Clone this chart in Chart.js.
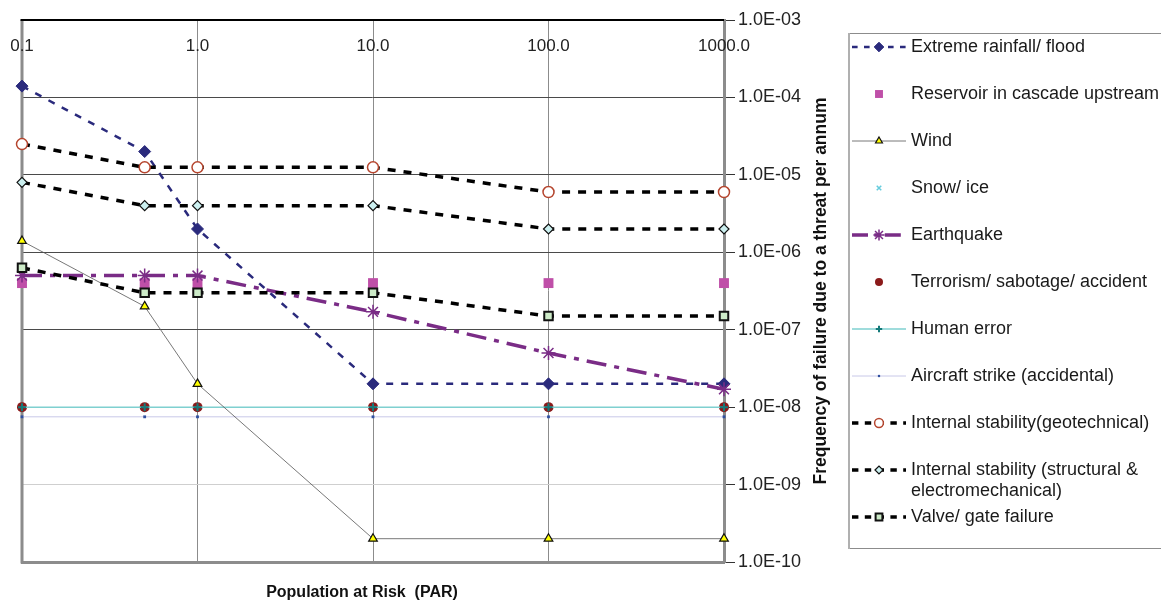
<!DOCTYPE html>
<html>
<head>
<meta charset="utf-8">
<script src="https://cdn.jsdelivr.net/npm/chart.js@4/dist/chart.umd.min.js"></script>
<style>
  html, body { margin: 0; padding: 0; background: #fff; }
  #wrap { width: 1161px; height: 601px; }
</style>
</head>
<body>
<div id="wrap"><canvas id="riskChart" width="1161" height="601"></canvas></div>
<script>
// Population at risk (x values, log scale)
const parValues = [0.1, 0.5, 1, 10, 100, 1000];
const xTickValues = [0.1, 1, 10, 100, 1000];
const xTickLabels = ['0.1', '1.0', '10.0', '100.0', '1000.0'];
const yTickValues = [1e-10, 1e-9, 1e-8, 1e-7, 1e-6, 1e-5, 1e-4, 1e-3];
const yTickLabels = ['1.0E-10', '1.0E-09', '1.0E-08', '1.0E-07', '1.0E-06', '1.0E-05', '1.0E-04', '1.0E-03'];

// Frequency of failure per annum, one array per threat
const extremeRainfall = [1.4e-4, 2e-5, 2e-6, 2e-8, 2e-8, 2e-8];
const reservoirCascade = [4e-7, 4e-7, 4e-7, 4e-7, 4e-7, 4e-7];
const wind = [1.4e-6, 2e-7, 2e-8, 2e-10, 2e-10, 2e-10];
const snowIce = [1e-8, 1e-8, 1e-8, 1e-8, 1e-8, 1e-8];
const earthquake = [5e-7, 5e-7, 5e-7, 1.7e-7, 5e-8, 1.7e-8];
const terrorism = [1e-8, 1e-8, 1e-8, 1e-8, 1e-8, 1e-8];
const humanError = [1e-8, 1e-8, 1e-8, 1e-8, 1e-8, 1e-8];
const aircraftStrike = [7.5e-9, 7.5e-9, 7.5e-9, 7.5e-9, 7.5e-9, 7.5e-9];
const stabilityGeo = [2.5e-5, 1.25e-5, 1.25e-5, 1.25e-5, 6e-6, 6e-6];
const stabilityStruct = [8e-6, 4e-6, 4e-6, 4e-6, 2e-6, 2e-6];
const valveGate = [6.3e-7, 3e-7, 3e-7, 3e-7, 1.5e-7, 1.5e-7];

const FONT = '"Liberation Sans", Arial, sans-serif';

function points(arr) {
    return parValues.map((x, i) => ({ x: x, y: arr[i] }));
}

// base style for every series
function series(label, arr, style) {
    return Object.assign({
        label: label,
        data: points(arr),
        showLine: true,
        fill: false,
        clip: false,
        tension: 0,
        pointHoverRadius: 0
    }, style);
}

const datasets = [
    series('Extreme rainfall/ flood', extremeRainfall, {
        borderColor: '#2a2a7c', borderWidth: 2.5, borderDash: [7, 8],
        pointStyle: 'rectRot', pointRadius: 6, pointBackgroundColor: '#2a2a7c',
        pointBorderColor: '#2a2a7c', pointBorderWidth: 1, order: 3
    }),
    series('Reservoir in cascade upstream', reservoirCascade, {
        showLine: false, borderColor: '#bf4fa8',
        pointStyle: 'rect', pointRadius: 7, pointBackgroundColor: '#bf4fa8',
        pointBorderColor: '#bf4fa8', pointBorderWidth: 0, order: 5
    }),
    series('Wind', wind, {
        borderColor: '#555555', borderWidth: 0.8,
        pointStyle: 'triangle', pointRadius: 5, pointBackgroundColor: '#ffff00',
        pointBorderColor: '#111111', pointBorderWidth: 1.2, order: 4
    }),
    series('Snow/ ice', snowIce, {
        showLine: false, borderColor: '#66ccdd',
        pointStyle: 'crossRot', pointRadius: 4, pointBorderColor: '#66ccdd',
        pointBorderWidth: 1.5, order: 9
    }),
    series('Earthquake', earthquake, {
        borderColor: '#7a2c86', borderWidth: 3.5, borderDash: [20, 8, 5, 8],
        pointStyle: 'star', pointRadius: 7, pointBorderColor: '#7a2c86',
        pointBackgroundColor: '#7a2c86', pointBorderWidth: 1.5, order: 2
    }),
    series('Terrorism/ sabotage/ accident', terrorism, {
        showLine: false, borderColor: '#8b1a1a',
        pointStyle: 'circle', pointRadius: 5, pointBackgroundColor: '#8b1a1a',
        pointBorderColor: '#8b1a1a', pointBorderWidth: 0, order: 7
    }),
    series('Human error', humanError, {
        borderColor: '#7fd0d0', borderWidth: 1.5,
        pointStyle: 'cross', pointRadius: 4, pointBorderColor: '#147a7a',
        pointBorderWidth: 2, order: 6
    }),
    series('Aircraft strike (accidental)', aircraftStrike, {
        borderColor: '#c8c8e8', borderWidth: 1,
        pointStyle: 'rect', pointRadius: 2, pointBackgroundColor: '#3050a0',
        pointBorderColor: '#3050a0', pointBorderWidth: 0, order: 8
    }),
    series('Internal stability(geotechnical)', stabilityGeo, {
        borderColor: '#000000', borderWidth: 3.5, borderDash: [8, 8],
        pointStyle: 'circle', pointRadius: 5.5, pointBackgroundColor: '#ffffff',
        pointBorderColor: '#b5452e', pointBorderWidth: 1.5, order: 1
    }),
    series('Internal stability (structural &\nelectromechanical)', stabilityStruct, {
        borderColor: '#000000', borderWidth: 3.5, borderDash: [8, 8],
        pointStyle: 'rectRot', pointRadius: 5, pointBackgroundColor: '#ccf0f0',
        pointBorderColor: '#111111', pointBorderWidth: 1.2, order: 1
    }),
    series('Valve/ gate failure', valveGate, {
        borderColor: '#000000', borderWidth: 3.5, borderDash: [8, 8],
        pointStyle: 'rect', pointRadius: 6, pointBackgroundColor: '#cdebc8',
        pointBorderColor: '#111111', pointBorderWidth: 2, order: 1
    })
];

// Frame, top tick labels, titles and the legend box
const decorPlugin = {
    id: 'decor',
    beforeDatasetsDraw(chart) {
        const ctx = chart.ctx;
        const a = chart.chartArea;
        ctx.save();
        // left edge
        ctx.strokeStyle = '#8c8c8c';
        ctx.lineWidth = 3;
        ctx.beginPath();
        ctx.moveTo(a.left, a.top);
        ctx.lineTo(a.left, a.bottom + 1.5);
        ctx.stroke();
        // top edge
        ctx.strokeStyle = '#000000';
        ctx.lineWidth = 2;
        ctx.beginPath();
        ctx.moveTo(a.left - 1.5, a.top);
        ctx.lineTo(a.right, a.top);
        ctx.stroke();
        ctx.restore();
    },
    afterDraw(chart) {
        const ctx = chart.ctx;
        const a = chart.chartArea;
        const xs = chart.scales.x;
        ctx.save();
        // x tick labels sit inside the plot, under the top edge
        ctx.fillStyle = '#222222';
        ctx.font = '17px ' + FONT;
        ctx.textAlign = 'center';
        ctx.textBaseline = 'middle';
        xTickValues.forEach((v, i) => {
            ctx.fillText(xTickLabels[i], xs.getPixelForValue(v), a.top + 26);
        });

        // axis titles
        ctx.fillStyle = '#111111';
        ctx.font = 'bold 16px ' + FONT;
        ctx.fillText('Population at Risk  (PAR)', 362, 593);
        ctx.save();
        ctx.translate(821, 291);
        ctx.rotate(-Math.PI / 2);
        ctx.font = 'bold 17.5px ' + FONT;
        ctx.fillText('Frequency of failure due to a threat per annum', 0, 0);
        ctx.restore();

        // legend
        ctx.strokeStyle = '#8c8c8c';
        ctx.lineWidth = 1;
        ctx.strokeRect(848.5, 33.5, 400, 515);
        ctx.strokeStyle = '#b0b0b0';
        ctx.lineWidth = 2;
        ctx.beginPath();
        ctx.moveTo(849, 33);
        ctx.lineTo(849, 549);
        ctx.stroke();

        ctx.font = '18px ' + FONT;
        ctx.textAlign = 'left';
        chart.data.datasets.forEach((ds, i) => {
            const y = 47 + i * 47;
            if (ds.showLine) {
                ctx.save();
                ctx.strokeStyle = ds.borderColor;
                ctx.lineWidth = ds.borderWidth;
                ctx.setLineDash(ds.borderDash ? ds.borderDash.map(d => d * 0.8) : []);
                ctx.beginPath();
                ctx.moveTo(852, y);
                ctx.lineTo(906, y);
                ctx.stroke();
                ctx.restore();
            }
            ctx.save();
            ctx.fillStyle = ds.pointBackgroundColor || ds.borderColor;
            ctx.strokeStyle = ds.pointBorderColor;
            ctx.lineWidth = ds.pointBorderWidth;
            Chart.helpers.drawPoint(ctx, {
                pointStyle: ds.pointStyle,
                radius: ds.pointRadius * 0.8,
                rotation: 0,
                borderWidth: ds.pointBorderWidth
            }, 879, y);
            ctx.restore();
            ctx.fillStyle = '#1a1a1a';
            ds.label.split('\n').forEach((line, k) => {
                ctx.fillText(line, 911, y + k * 21);
            });
        });
        ctx.restore();
    }
};

new Chart(document.getElementById('riskChart'), {
    type: 'scatter',
    data: { datasets: datasets },
    options: {
        responsive: false,
        animation: false,
        events: [],
        layout: { padding: { left: 22, top: 20, right: 0, bottom: 0 } },
        plugins: {
            legend: { display: false },
            tooltip: { enabled: false }
        },
        scales: {
            x: {
                type: 'logarithmic',
                position: 'bottom',
                min: 0.1,
                max: 1000,
                afterBuildTicks(scale) {
                    scale.ticks = xTickValues.map(v => ({ value: v }));
                },
                afterFit(scale) { scale.height = 39; },
                ticks: { display: false },
                grid: { color: '#8c8c8c', lineWidth: 1, drawTicks: false },
                border: { display: true, color: '#8c8c8c', width: 3 }
            },
            y: {
                type: 'logarithmic',
                position: 'right',
                min: 1e-10,
                max: 1e-3,
                afterBuildTicks(scale) {
                    scale.ticks = yTickValues.map(v => ({ value: v }));
                },
                afterFit(scale) { scale.width = 437; },
                ticks: {
                    color: '#222222',
                    font: { family: FONT, size: 18 },
                    padding: 3,
                    callback(value) {
                        const i = yTickValues.findIndex(v => Math.abs(v - value) / v < 1e-6);
                        return i >= 0 ? yTickLabels[i] : '';
                    }
                },
                grid: {
                    color(ctx) {
                        const v = ctx.tick ? ctx.tick.value : 0;
                        if (Math.abs(v - 1e-9) / 1e-9 < 1e-6) return '#cfcfcf';
                        return '#4a4a4a';
                    },
                    lineWidth: 1,
                    tickLength: 11,
                    tickColor: '#333333'
                },
                border: { display: true, color: '#8c8c8c', width: 3 }
            }
        }
    },
    plugins: [decorPlugin]
});
</script>
</body>
</html>
